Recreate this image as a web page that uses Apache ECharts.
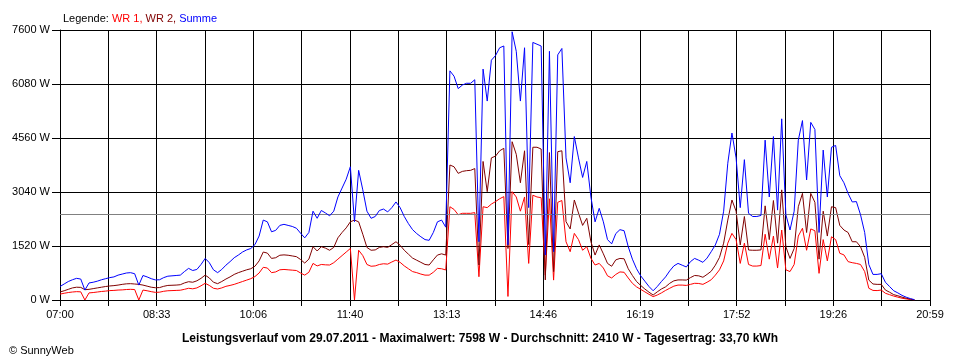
<!DOCTYPE html>
<html>
<head>
<meta charset="utf-8">
<script src="https://cdn.jsdelivr.net/npm/echarts@6/dist/echarts.min.js"></script>
<style>
html,body{margin:0;padding:0;background:#fff;}
#c{width:960px;height:360px;}
</style>
</head>
<body>
<div id="c"></div>
<script>
// ---- data (sampled every 4 minutes from 07:00) ----
const START_MIN = 420;            // 07:00
const STEP_MIN = 4;
const SPAN_MIN = 839;             // 07:00 .. 20:59
const tickLabels = ['07:00','08:33','10:06','11:40','13:13','14:46','16:19','17:52','19:26','20:59'];
const yTicks = [0, 1520, 3040, 4560, 6080, 7600];
const average = 2410;

const summe = [
380,450,520,570,610,590,280,480,500,530,570,600,630,650,700,730,760,770,740,420,
690,650,600,565,570,630,670,680,690,700,800,890,830,860,1000,1170,1050,850,770,860,
980,1080,1190,1265,1350,1410,1450,1560,1800,2250,2200,1920,1960,2100,2130,2100,2070,2020,1880,1750,
1900,2500,2300,2520,2450,2370,2500,2900,3150,3400,3750,2205,3650,3100,2500,2300,2350,2520,2560,2480,
2600,2760,2600,2350,2150,1980,1870,1780,1700,1680,1900,2200,2250,2050,6450,6300,5950,6050,6100,6100,
6200,1640,6500,5600,6750,6880,7100,7150,1550,7550,7000,5600,7100,2600,7250,7200,7150,1265,7000,1360,
6900,7080,4000,3300,4600,4000,3450,3900,2900,2200,2580,2200,1700,1580,1870,1980,1950,1500,1150,880,
680,530,380,260,380,520,650,820,960,1030,980,930,1080,1170,1120,1060,1180,1360,1550,1850,
2500,3850,4700,4000,2600,3950,2440,2350,2350,2380,4500,2900,4600,2530,5100,2400,1970,2500,4500,5050,
3380,5000,4800,1900,4220,2900,4300,4350,3500,3300,3000,2760,2770,2400,1900,1000,720,720,740,500,
380,260,200,130,80,40,10
];
const wr1 = [
165,190,210,225,235,230,0,200,210,225,240,250,265,270,280,285,295,300,295,0,
280,260,235,215,220,245,260,265,270,275,300,330,315,340,400,470,410,330,310,340,
385,410,440,480,520,560,600,660,760,920,900,770,790,850,860,850,840,830,760,700,
780,1030,960,1000,990,985,1050,1150,1250,1350,1450,0,1400,1250,1000,950,960,1000,1020,1010,
1070,1125,1060,960,880,800,770,730,700,700,780,890,880,845,2625,2550,2400,2440,2440,2440,
2460,655,2625,2600,2700,2770,2850,2910,100,3050,2900,2500,2900,1030,2950,2900,2880,700,2850,560,
2750,2800,1640,1360,1875,1700,1400,1500,1175,985,1030,900,680,620,720,790,780,620,470,370,
300,230,160,95,140,200,270,330,390,420,420,410,440,470,465,440,500,570,700,850,
1100,1600,1875,1700,1030,1600,1000,955,955,970,1850,1150,1800,900,1970,850,800,1000,1800,2020,
1400,2000,1950,750,1700,1100,1780,1700,1315,1270,1080,1050,1030,1000,800,330,270,265,280,190,
150,110,80,50,30,15,5
];
const wr2 = [
225,260,300,340,360,355,290,300,320,340,360,380,395,405,420,440,455,460,450,440,
420,390,360,345,350,385,410,415,420,430,480,515,500,540,610,700,620,500,460,520,
590,650,720,770,810,850,880,950,1100,1350,1320,1170,1190,1260,1270,1260,1240,1220,1140,1040,
1150,1500,1380,1500,1460,1400,1480,1750,1900,2030,2200,2250,2200,1850,1480,1400,1410,1480,1500,1480,
1560,1640,1540,1400,1290,1180,1120,1060,1000,985,1130,1265,1300,1265,3800,3750,3565,3620,3640,3650,
3700,985,3900,3050,4000,4050,4200,4270,1450,4455,4100,3300,4200,1560,4300,4300,4250,565,4150,800,
4175,4200,2205,2000,2815,2450,2100,2300,1640,1265,1550,1300,1030,950,1130,1170,1160,880,690,520,
410,310,220,140,230,310,370,470,540,565,565,560,630,690,680,640,720,810,980,1200,
1600,2250,2815,2500,1550,2350,1407,1400,1400,1410,2650,1700,2800,1600,3100,1500,1170,1450,2625,3000,
1900,3000,2750,1150,2500,1800,2625,2600,2100,1970,1900,1640,1640,1500,1200,560,450,440,440,280,
220,150,120,80,50,25,5
];

function pairs(arr){ return arr.map((v,i)=>[i*STEP_MIN, v]); }

const FONT = '"Liberation Sans", Arial, sans-serif';
const HALF = SPAN_MIN / 18;

const chart = echarts.init(document.getElementById('c'), null, {renderer:'canvas'});
chart.setOption({
  animation:false,
  backgroundColor:'#ffffff',
  title:[{
    left:58, top:8,
    text:'{k|Legende: }{a|WR 1, }{b|WR 2, }{c|Summe}',
    textStyle:{
      fontWeight:'normal', fontSize:11, fontFamily:FONT,
      rich:{
        k:{color:'#000',fontSize:11,fontFamily:FONT,fontWeight:'normal'},
        a:{color:'#ff0000',fontSize:11,fontFamily:FONT,fontWeight:'normal'},
        b:{color:'#800000',fontSize:11,fontFamily:FONT,fontWeight:'normal'},
        c:{color:'#0000ff',fontSize:11,fontFamily:FONT,fontWeight:'normal'}
      }
    }
  },{
    left:'center', top:328,
    text:'Leistungsverlauf vom 29.07.2011 - Maximalwert: 7598 W - Durchschnitt: 2410 W - Tagesertrag: 33,70 kWh',
    textStyle:{color:'#000',fontSize:12,fontWeight:'bold',fontFamily:FONT}
  },{
    left:4, top:340,
    text:'© SunnyWeb',
    textStyle:{color:'#000',fontSize:11,fontWeight:'normal',fontFamily:FONT}
  }],
  grid:{left:60, right:30, top:30, bottom:60, containLabel:false},
  xAxis:{
    type:'value', min:0, max:SPAN_MIN, interval:HALF,
    axisLine:{show:true, lineStyle:{color:'#000',width:1}},
    axisTick:{show:true, length:6, lineStyle:{color:'#000'}},
    splitLine:{show:true, lineStyle:{color:'#000',width:1}},
    axisLabel:{
      color:'#000', fontSize:11, fontFamily:FONT, margin:9,
      showMinLabel:true, showMaxLabel:true, hideOverlap:false,
      formatter:function(v){
        const idx = Math.round(v / HALF);
        return idx % 2 === 0 ? (tickLabels[idx/2] || '') : '';
      }
    }
  },
  yAxis:{
    type:'value', min:yTicks[0], max:yTicks[yTicks.length-1], interval:yTicks[1]-yTicks[0],
    axisLine:{show:true, lineStyle:{color:'#000',width:1}},
    axisTick:{show:true, length:8, lineStyle:{color:'#000'}},
    splitLine:{show:true, lineStyle:{color:'#000',width:1}},
    axisLabel:{color:'#000', fontSize:11, fontFamily:FONT, margin:10,
      formatter:function(v){ return v + ' W'; }}
  },
  series:[
    {name:'WR 1', type:'line', data:pairs(wr1), showSymbol:false,
     lineStyle:{color:'#ff0000', width:1}, itemStyle:{color:'#ff0000'}, z:3,
     markLine:{silent:true, symbol:'none', label:{show:false},
       lineStyle:{color:'#808080', width:1, type:'solid'},
       data:[{yAxis:average}]}},
    {name:'WR 2', type:'line', data:pairs(wr2), showSymbol:false,
     lineStyle:{color:'#800000', width:1}, itemStyle:{color:'#800000'}, z:4},
    {name:'Summe', type:'line', data:pairs(summe), showSymbol:false,
     lineStyle:{color:'#0000ff', width:1}, itemStyle:{color:'#0000ff'}, z:5}
  ]
});
</script>
</body>
</html>
